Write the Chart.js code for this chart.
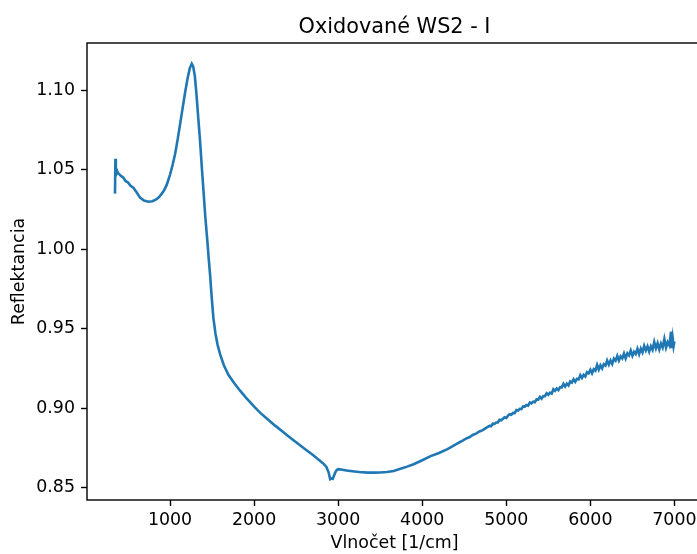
<!DOCTYPE html>
<html>
<head>
<meta charset="utf-8">
<script src="https://cdn.jsdelivr.net/npm/chart.js@4"></script>
<style>
  html, body { margin: 0; padding: 0; background: #fff; overflow: hidden; }
  canvas { display: block; }
</style>
</head>
<body>
<canvas id="chart" width="710" height="554"></canvas>
<script>
(function() {
    'use strict';

    const chartTitle = 'Oxidované WS2 - I';
    const xLabel = 'Vlnočet [1/cm]';
    const yLabel = 'Reflektancia';

    const xTicks = [1000, 2000, 3000, 4000, 5000, 6000, 7000];
    const yTicks = [0.85, 0.90, 0.95, 1.00, 1.05, 1.10];

    // wavenumbers [1/cm]
    const wavenumbers = [
        345, 350, 355, 365, 380, 400, 420, 445, 470, 500, 530, 563, 600, 643, 690, 742, 790, 830, 861, 900,
        930, 960, 1000, 1030, 1060, 1090, 1119, 1150, 1180, 1210, 1235, 1258, 1275, 1295, 1315, 1335, 1357, 1380, 1400, 1420,
        1444, 1460, 1476, 1495, 1515, 1540, 1565, 1595, 1640, 1694, 1760, 1833, 1900, 1952, 2012, 2071, 2150, 2250, 2349, 2429,
        2500, 2600, 2700, 2786, 2830, 2860, 2885, 2905, 2920, 2935, 2950, 2964, 2985, 3004, 3050, 3100, 3143, 3250, 3350, 3421,
        3500, 3580, 3659, 3750, 3820, 3897, 4000, 4100, 4200, 4300, 4400,
        4440, 4480, 4520, 4560, 4600, 4640, 4680, 4720, 4760,
        4800, 4820, 4840, 4860, 4880, 4900, 4920, 4940, 4960, 4980,
        5000, 5020, 5040, 5060, 5080, 5100, 5120, 5140, 5160, 5180,
        5200, 5220, 5240, 5260, 5280, 5300, 5320, 5340, 5360, 5380,
        5400, 5420, 5440, 5460, 5480, 5500, 5520, 5540, 5560, 5580,
        5600, 5620, 5640, 5660, 5680, 5700, 5720, 5740, 5760, 5780,
        5800, 5820, 5840, 5860, 5880, 5900, 5920, 5940, 5960, 5980,
        6000, 6020, 6040, 6060, 6080, 6100, 6120, 6140, 6160, 6180,
        6200, 6220, 6240, 6260, 6280, 6300, 6320, 6340, 6360, 6380,
        6400, 6420, 6440, 6460, 6480, 6500, 6520, 6540, 6560, 6580,
        6600, 6620, 6640, 6660, 6680, 6700, 6720, 6740, 6760, 6780,
        6800, 6820, 6840, 6860, 6880, 6900, 6920, 6940, 6960, 6970,
        6980, 6990, 7000
    ];

    // reflectance
    const reflectance = [
        1.035, 1.057, 1.046, 1.050, 1.048, 1.047, 1.046, 1.045, 1.043, 1.042, 1.040, 1.0387, 1.036, 1.0325, 1.0307, 1.0299, 1.0302, 1.0312, 1.0324, 1.0348,
        1.0372, 1.0405, 1.0470, 1.0530, 1.0600, 1.069, 1.0786, 1.089, 1.099, 1.108, 1.114, 1.1167, 1.115, 1.109, 1.097, 1.083, 1.068, 1.050, 1.035, 1.020,
        1.005, 0.994, 0.984, 0.970, 0.957, 0.947, 0.940, 0.934, 0.927, 0.921, 0.916, 0.911, 0.9068, 0.9038, 0.9003, 0.8972, 0.8935, 0.8890, 0.8848, 0.8814,
        0.8785, 0.8745, 0.8705, 0.8668, 0.8648, 0.8630, 0.8598, 0.8553, 0.8558, 0.8555, 0.8575, 0.8594, 0.8612, 0.8616, 0.8612, 0.8608, 0.8605, 0.8598, 0.8594, 0.8594,
        0.8595, 0.8598, 0.8605, 0.8620, 0.8632, 0.8647, 0.8672, 0.8698, 0.8718, 0.8742, 0.8772,
        0.8784, 0.8795, 0.8808, 0.8817, 0.8831, 0.8840, 0.8853, 0.8862, 0.8876,
        0.8888, 0.8887, 0.8902, 0.8901, 0.8910, 0.8910, 0.8927, 0.8924, 0.8933, 0.8943,
        0.8939, 0.8953, 0.8962, 0.8959, 0.8970, 0.8969, 0.8988, 0.8985, 0.8996, 0.8994,
        0.9011, 0.9010, 0.9020, 0.9016, 0.9036, 0.9030, 0.9041, 0.9038, 0.9055, 0.9054,
        0.9071, 0.9060, 0.9076, 0.9075, 0.9094, 0.9084, 0.9098, 0.9092, 0.9119, 0.9109,
        0.9124, 0.9113, 0.9132, 0.9131, 0.9153, 0.9136, 0.9154, 0.9143, 0.9168, 0.9161,
        0.9182, 0.9166, 0.9185, 0.9181, 0.9208, 0.9190, 0.9209, 0.9199, 0.9226, 0.9219,
        0.9241, 0.9219, 0.9245, 0.9236, 0.9272, 0.9243, 0.9270, 0.9250, 0.9277, 0.9268,
        0.9300, 0.9274, 0.9300, 0.9278, 0.9312, 0.9299, 0.9329, 0.9299, 0.9326, 0.9313,
        0.9344, 0.9313, 0.9345, 0.9332, 0.9362, 0.9330, 0.9355, 0.9341, 0.9374, 0.9340,
        0.9374, 0.9351, 0.9392, 0.9363, 0.9389, 0.9356, 0.9389, 0.9367, 0.9416, 0.9377,
        0.9409, 0.9370, 0.9406, 0.9382, 0.9435, 0.9381, 0.9415, 0.9395, 0.9481, 0.9377,
        0.9436, 0.9391, 0.9420
    ];

    const FONT = "'DejaVu Sans', sans-serif";
    const BLACK = '#000';
    const TICK_SIZE = 17.4;

    // axes box + title, placed like matplotlib does
    const framePlugin = {
        id: 'frame',
        afterDraw(chart) {
            const { ctx, chartArea: a } = chart;
            ctx.save();
            ctx.strokeStyle = BLACK;
            ctx.lineWidth = 1.4;
            ctx.strokeRect(a.left, a.top, a.right - a.left, a.bottom - a.top);
            ctx.fillStyle = BLACK;
            ctx.font = '20.8px ' + FONT;
            ctx.textAlign = 'center';
            ctx.textBaseline = 'alphabetic';
            ctx.fillText(chartTitle, (a.left + a.right) / 2, a.top - 10);
            ctx.restore();
        }
    };

    const points = wavenumbers.map((x, i) => ({ x: x, y: reflectance[i] }));

    new Chart(document.getElementById('chart'), {
        type: 'line',
        data: {
            datasets: [{
                data: points,
                borderColor: '#1f77b4',
                borderWidth: 2.6,
                pointRadius: 0,
                tension: 0,
                fill: false
            }]
        },
        options: {
            responsive: false,
            animation: false,
            devicePixelRatio: 1,
            layout: { padding: { left: 0, right: 8, top: 43, bottom: 0 } },
            plugins: { legend: { display: false }, title: { display: false }, tooltip: { enabled: false } },
            scales: {
                x: {
                    type: 'linear',
                    min: 12,
                    max: 7328,
                    afterBuildTicks: s => { s.ticks = xTicks.map(v => ({ value: v })); },
                    afterFit: s => { s.height = 54; },
                    grid: { drawOnChartArea: false, drawTicks: true, tickLength: 6, tickWidth: 1.4, color: BLACK },
                    border: { display: false },
                    ticks: { color: BLACK, padding: 4, maxRotation: 0, font: { family: FONT, size: TICK_SIZE },
                        callback: v => String(v) },
                    title: { display: true, text: xLabel, color: BLACK, padding: { top: 0, bottom: 0 },
                        font: { family: FONT, size: TICK_SIZE } }
                },
                y: {
                    type: 'linear',
                    min: 0.8422,
                    max: 1.1298,
                    afterBuildTicks: s => { s.ticks = yTicks.map(v => ({ value: v })); },
                    afterFit: s => { s.width = 87; },
                    grid: { drawOnChartArea: false, drawTicks: true, tickLength: 6, tickWidth: 1.4, color: BLACK },
                    border: { display: false },
                    ticks: { color: BLACK, padding: 6, font: { family: FONT, size: TICK_SIZE },
                        callback: v => v.toFixed(2) },
                    title: { display: true, text: yLabel, color: BLACK, padding: { top: 9, bottom: 0 },
                        font: { family: FONT, size: TICK_SIZE } }
                }
            }
        },
        plugins: [framePlugin]
    });
})();
</script>
</body>
</html>
